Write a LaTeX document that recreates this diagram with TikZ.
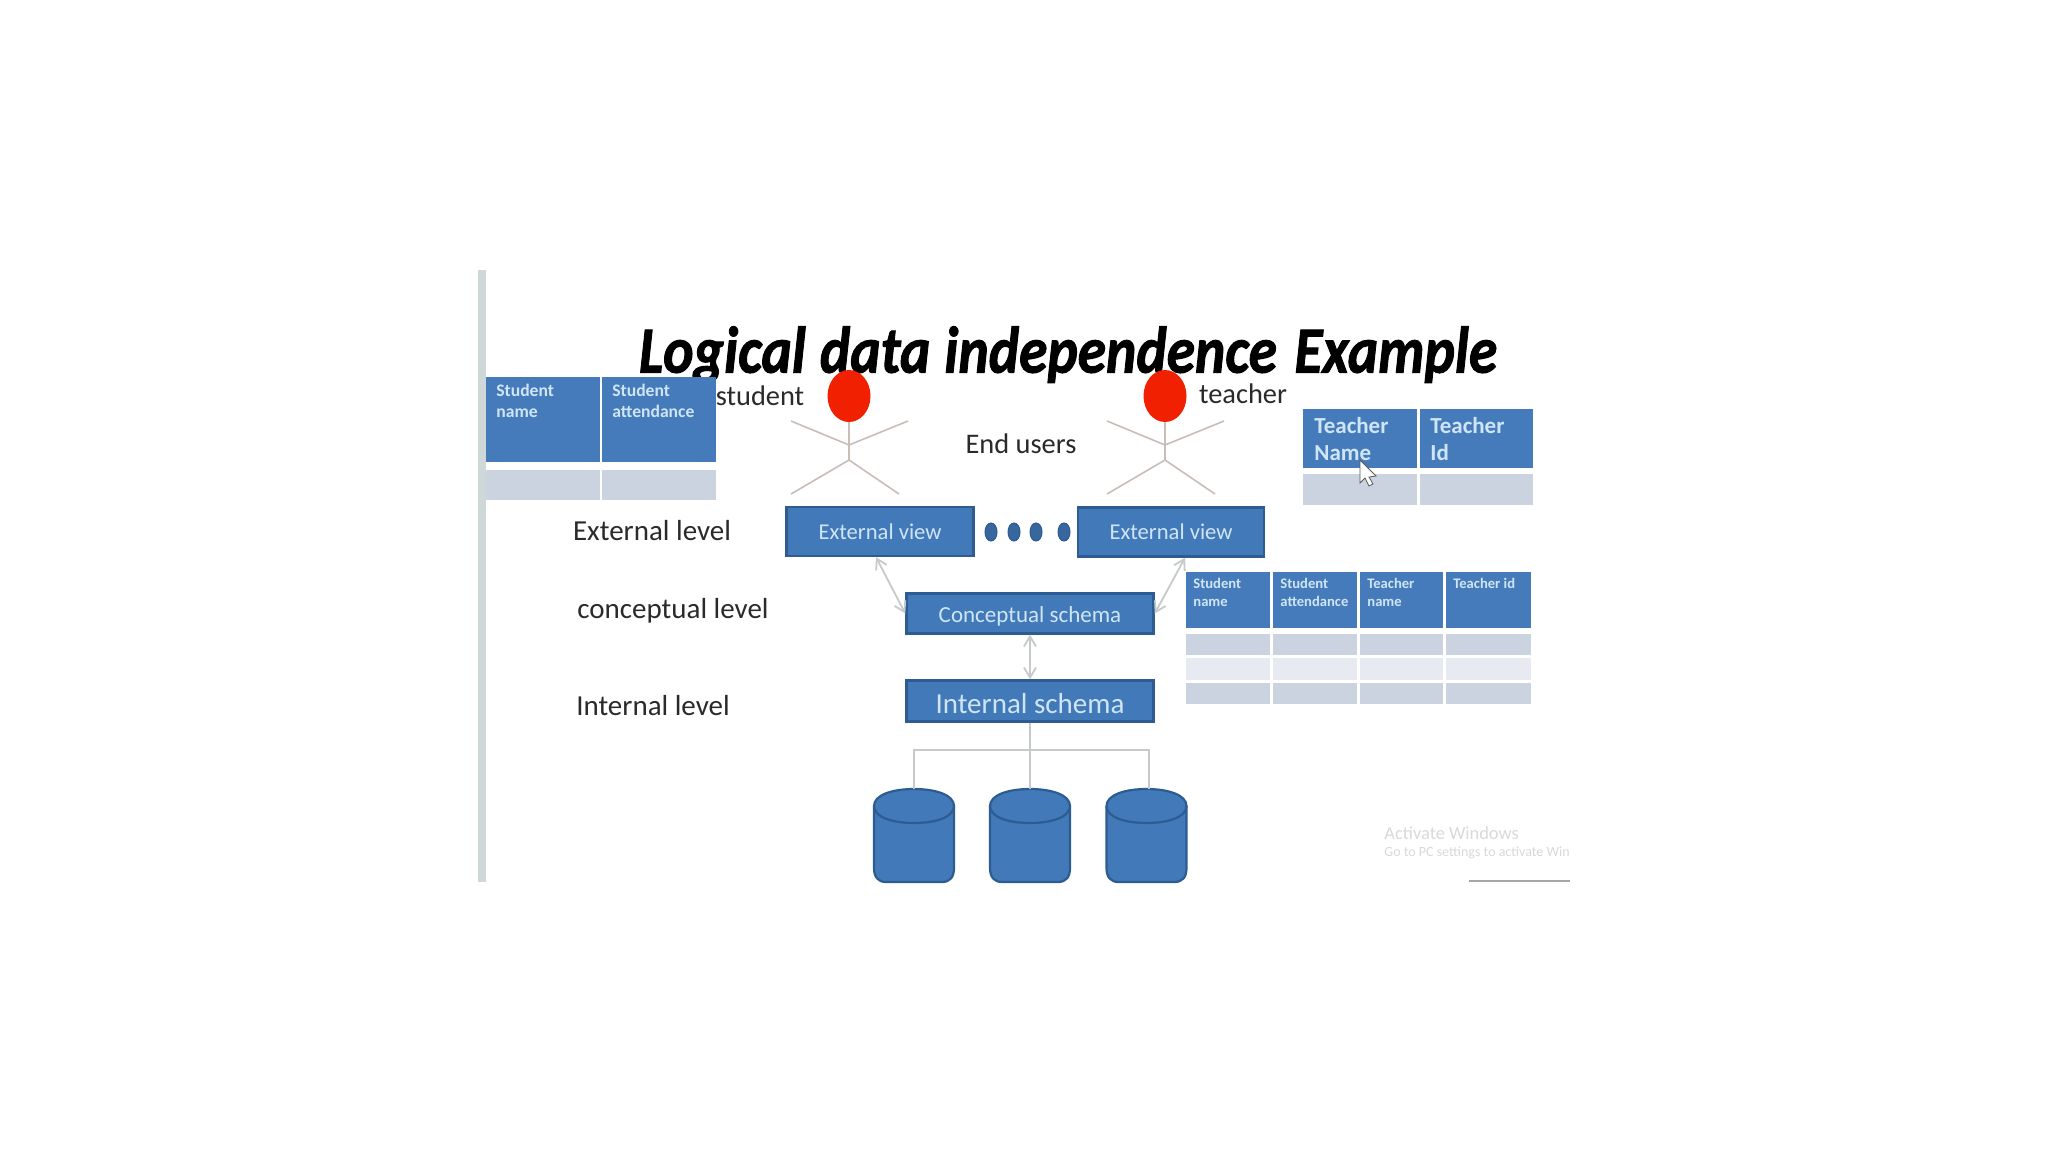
\documentclass[tikz,border=0pt]{standalone}
\usepackage{fontspec}
\setmainfont{Carlito}
\usetikzlibrary{arrows.meta,shapes.geometric}
\definecolor{boxblue}{HTML}{4179B9}
\definecolor{boxedge}{HTML}{2C5C92}
\definecolor{headblue}{HTML}{457BBB}
\definecolor{boxtext}{HTML}{CFE5F6}
\definecolor{rowdark}{HTML}{CCD3E0}
\definecolor{rowlight}{HTML}{E7EAF1}
\definecolor{stick}{HTML}{C9BDB8}
\definecolor{linkgrey}{HTML}{C6CACA}
\definecolor{barcol}{HTML}{CFD8D8}
\definecolor{inktext}{HTML}{2A2A2A}
\definecolor{headred}{HTML}{F02000}
\tikzset{
  viewbox/.style={draw=boxedge,line width=1.2pt,fill=boxblue,text=boxtext,inner sep=0pt,rectangle},
  lvl/.style={text=inktext,inner sep=0pt,font=\fontsize{14.5}{16}\selectfont},
  lvlsmall/.style={text=inktext,inner sep=0pt,font=\fontsize{14.2}{16}\selectfont},
  limb/.style={draw=stick,line width=0.8pt},
  headnode/.style={ellipse,fill=headred,inner sep=0pt},
  link/.style={draw=linkgrey,line width=0.9pt},
  biarrow/.style={link,{Straight Barb[length=5pt,width=6pt]}-{Straight Barb[length=5pt,width=6pt]}},
  celltext/.style={anchor=north west,align=left,text=boxtext,inner sep=0pt},
  dotnode/.style={ellipse,draw=boxedge,fill=boxblue!85!black,line width=0.5pt,minimum width=6pt,minimum height=9pt,inner sep=0pt},
  cylfill/.style={draw=boxedge,line width=1.1pt,fill=boxblue}
}
\newcommand{\headcell}[4]{\fill[headblue] (#1,#2) rectangle (#3,#4);}
\newcommand{\rowcell}[5]{\fill[#5] (#1,#2) rectangle (#3,#4);}
\newcommand{\stickman}[2]{%
  \node[headnode,minimum width=21.5pt,minimum height=26pt] (#1head) at (#2,396) {};
  \begin{scope}[shift={(#2,0)}]
    \draw[limb] (0,422) -- (0,460);
    \draw[limb] (-58,421) -- (0,445) -- (59,421);
    \draw[limb] (-58,494) -- (0,460) -- (50,494);
  \end{scope}}
\newcommand{\dbcyl}[2]{%
  \begin{scope}[shift={(#2,0)}]
    \path[cylfill] (-40,806) -- (-40,868) .. controls (-40,877) and (-36,882) .. (-28,882)
      -- (28,882) .. controls (36,882) and (40,877) .. (40,868) -- (40,806)
      .. controls (40,795) and (22,789) .. (0,789) .. controls (-22,789) and (-40,795) .. (-40,806) -- cycle;
    \path[draw=boxedge,line width=1.1pt] (-40,806) .. controls (-40,817) and (-22,823) .. (0,823) .. controls (22,823) and (40,817) .. (40,806);
    \coordinate (#1) at (0,789);
  \end{scope}}
\begin{document}
\begin{tikzpicture}[x=0.5pt,y=-0.5pt]
\useasboundingbox (0,0) rectangle (2048,1152);
\fill[white] (0,0) rectangle (2048,1152);
% slide left edge
\fill[barcol] (478,270) rectangle (486,882);
% title
\node[inner sep=0pt,text=black] (title) at (1068,355) {\scalebox{0.872}[1]{\fontsize{33}{36}\selectfont\bfseries\itshape\addfontfeature{FakeBold=1.5}Logical\hspace{8pt}data\hspace{8pt}independence\hspace{10pt}Example}};
% table 1
\headcell{486}{377}{600}{462}
\headcell{602}{377}{716}{462}
\rowcell{486}{470}{600}{500}{rowdark}
\rowcell{602}{470}{716}{500}{rowdark}
\node[celltext,font=\fontsize{8.8}{10.5}\selectfont\bfseries] (s1) at (496,384) {Student\\name};
\node[celltext,font=\fontsize{8.8}{10.5}\selectfont\bfseries] (s2) at (612,384) {Student\\attendance};
% table 2
\headcell{1303}{409}{1417}{468}
\headcell{1420}{409}{1533}{468}
\rowcell{1303}{474}{1417}{505}{rowdark}
\rowcell{1420}{474}{1533}{505}{rowdark}
\node[celltext,font=\fontsize{11.5}{13.5}\selectfont\bfseries] (t1) at (1314,417) {Teacher\\Name};
\node[celltext,font=\fontsize{11.5}{13.5}\selectfont\bfseries] (t2) at (1430,417) {Teacher\\Id};
% cursor
\path[draw=black!65,fill=white,line width=0.4pt] (1360,460) -- (1360,483) -- (1365,478) -- (1369,486) -- (1373,484) -- (1369,477) -- (1376,476) -- cycle;
% table 3
\foreach \xa/\xb in {1186/1270,1273/1357,1360/1443,1446/1531}{
  \headcell{\xa}{572}{\xb}{628}
  \rowcell{\xa}{634}{\xb}{655}{rowdark}
  \rowcell{\xa}{658}{\xb}{680}{rowlight}
  \rowcell{\xa}{683}{\xb}{704}{rowdark}
}
\node[celltext,font=\fontsize{7.3}{9}\selectfont\bfseries] (c1) at (1193,578) {Student\\name};
\node[celltext,font=\fontsize{7.3}{9}\selectfont\bfseries] (c2) at (1280,578) {Student\\attendance};
\node[celltext,font=\fontsize{7.3}{9}\selectfont\bfseries] (c3) at (1367,578) {Teacher\\name};
\node[celltext,font=\fontsize{7.3}{9}\selectfont\bfseries] (c4) at (1453,578) {Teacher id};
% users
\stickman{stu}{849}
\stickman{tea}{1165}
\node[lvlsmall] (lstudent) at (760,396) {student};
\node[lvlsmall] (lteacher) at (1243,394) {teacher};
\node[lvlsmall] (lend) at (1021,444) {End users};
\node[lvl] (lext) at (652,531) {External level};
\node[lvl] (lcon) at (673,611) {conceptual level};
\node[lvl] (lint) at (653,706) {Internal level};
% schema boxes
\node[viewbox,minimum width=93.5pt,minimum height=24.5pt,font=\fontsize{11.3}{12}\selectfont] (ext1) at (880,531.5) {External view};
\node[viewbox,minimum width=93pt,minimum height=24.5pt,font=\fontsize{11.3}{12}\selectfont] (ext2) at (1171,532) {External view};
\node[viewbox,minimum width=123.5pt,minimum height=20pt,font=\fontsize{11.5}{13}\selectfont] (concept) at (1030,613.5) {\rule{0pt}{11pt}Conceptual schema};
\node[viewbox,minimum width=123.5pt,minimum height=20.5pt,font=\fontsize{14.5}{16}\selectfont] (intern) at (1030,701) {\rule{0pt}{13pt}Internal schema};
% dots
\node[dotnode] (d1) at (991,532) {};
\node[dotnode] (d2) at (1014,532) {};
\node[dotnode] (d3) at (1036,532) {};
\node[dotnode] (d4) at (1064,532) {};
% links
\draw[biarrow] ([xshift=-2pt]ext1.south) -- (concept.west);
\draw[biarrow] ([xshift=7pt]ext2.south) -- (concept.east);
\draw[biarrow] (concept.south) -- (intern.north);
% disks
\dbcyl{db1}{914}
\dbcyl{db2}{1030}
\dbcyl{db3}{1146.5}
\coordinate (bus) at (1030,750);
\draw[link] (intern.south) -- (db2);
\draw[link] (db1) |- (bus) -| ([xshift=1.2pt]db3);
% watermark
\node[anchor=west,inner sep=0pt,text=black!15,font=\fontsize{9.2}{11}\selectfont] (wm1) at (1384,833) {Activate Windows};
\node[anchor=west,inner sep=0pt,text=black!15,font=\fontsize{7}{8}\selectfont] (wm2) at (1384,853) {Go to PC settings to activate Win};
\draw[draw=black!35,line width=0.6pt] (1469,881) -- (1570,881);
\end{tikzpicture}
\end{document}
